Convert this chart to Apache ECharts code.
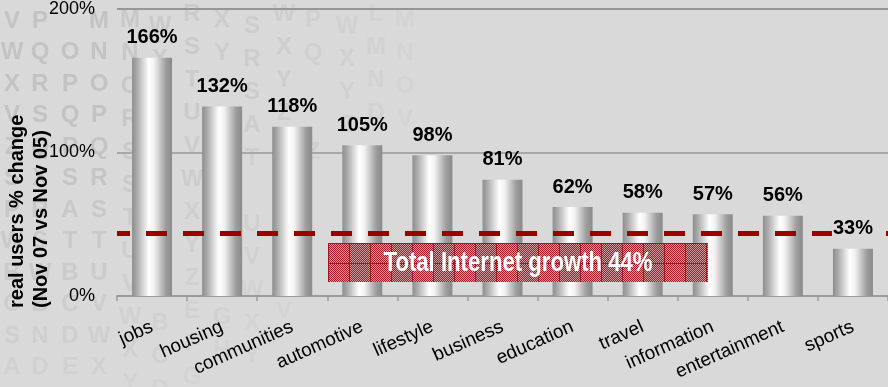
<!DOCTYPE html>
<html>
<head>
<meta charset="utf-8">
<script src="https://cdn.jsdelivr.net/npm/echarts@6/dist/echarts.min.js"></script>
<style>
  html, body { margin: 0; padding: 0; background: #d9d9d9; }
  #chart { width: 888px; height: 387px; }
</style>
</head>
<body>
<div id="chart"></div>
<script>
// Growth in real users by site category, Nov 07 vs Nov 05
const categories = ['jobs', 'housing', 'communities', 'automotive', 'lifestyle', 'business',
  'education', 'travel', 'information', 'entertainment', 'sports'];
const growth = [166, 132, 118, 105, 98, 81, 62, 58, 57, 56, 33];
const totalGrowth = 44;
const yTicks = [0, 100, 200];
const yTitle = ['real users % change', '(Nov 07 vs Nov 05)'];
const bannerText = 'Total Internet growth ' + totalGrowth + '%';

// faint letter wall behind the plot (one string per column, top to bottom)
const letterColumns = [
  'VWXVZSPWBCSAD', 'PQRSQXRSWBNDE', ' OPQPSATBCDEF', 'MNOPQRSTUVWXY',
  'MNORSSTUVWXYZ', 'WX  WXYZABCD', 'RSTUVWXYZEFG', 'XY ZBCDEFGH',
  'SRSAT UVWXY', 'WXYZ RSTUV', 'PQ  Z', 'WXYZ', 'LMND', 'MNOV'
];

const FONT = 'Liberation Sans, Arial, sans-serif';
const BG = '#d9d9d9';

function hatchCanvas() {
  const c = document.createElement('canvas');
  c.width = 21; c.height = 20;
  const g = c.getContext('2d');
  for (let y = 0; y < c.height; y++) {
    for (let x = 0; x < c.width; x++) {
      g.fillStyle = (x + y) % 2 ? '#a31a26' : '#d49ba0';
      g.fillRect(x, y, 1, 1);
    }
  }
  g.fillStyle = '#a11722';
  g.fillRect(0, 0, 1, c.height);
  g.fillRect(0, 0, c.width, 1);
  return c;
}

function letterWall() {
  const els = [];
  const xs = [12, 40, 70, 99, 130, 160, 192, 222, 252, 284, 313, 347, 376, 405];
  letterColumns.forEach((col, ci) => {
    const y0 = ci < 4 ? 21 : 14 + (ci % 3) * 6;
    const dy = ci < 4 ? 31.5 : 33;
    const colAlpha = ci < 4 ? 0.55 : Math.max(0.12, 0.4 - (ci - 4) * 0.03);
    for (let r = 0; r < col.length; r++) {
      const ch = col[r];
      if (ch === ' ') continue;
      const rowFade = r < 4 ? 1 : Math.max(0.35, 1 - (r - 3) * 0.08);
      els.push({
        type: 'text', silent: true, z: -10,
        x: xs[ci], y: y0 + r * dy,
        style: {
          text: ch, font: 'bold 24px ' + FONT, fill: '#b0b0b0',
          opacity: colAlpha * rowFade, align: 'center', verticalAlign: 'middle'
        }
      });
    }
  });
  return els;
}

// labels of columns that sit under the reference line get a backing so they stay legible
const labelData = growth.map(v => v < totalGrowth
  ? { value: v, label: { backgroundColor: BG, padding: [0, 1] } }
  : v);

const chart = echarts.init(document.getElementById('chart'));

const barGradient = new echarts.graphic.LinearGradient(0, 0, 1, 0, [
  { offset: 0, color: '#8e8e8e' },
  { offset: 0.12, color: '#a9a9a9' },
  { offset: 0.42, color: '#ffffff' },
  { offset: 0.55, color: '#f2f2f2' },
  { offset: 0.85, color: '#9c9c9c' },
  { offset: 1, color: '#8a8a8a' }
]);

chart.setOption({
  backgroundColor: BG,
  animation: false,
  grid: { left: 117, top: 9, width: 775, height: 287, containLabel: false },
  xAxis: {
    type: 'category',
    data: categories,
    axisLine: { lineStyle: { color: '#9a9a9a', width: 2 } },
    axisTick: { show: true, length: 5, lineStyle: { color: '#9a9a9a', width: 1.5 } },
    axisLabel: {
      interval: 0, rotate: 24, margin: 30,
      fontFamily: FONT, fontSize: 19, color: '#000'
    }
  },
  yAxis: {
    type: 'value',
    min: yTicks[0], max: yTicks[yTicks.length - 1], interval: 100,
    axisLine: { show: false },
    axisTick: { show: false },
    axisLabel: {
      formatter: v => v + '%', margin: 22,
      fontFamily: FONT, fontSize: 18, color: '#000'
    },
    splitLine: { lineStyle: { color: ['#9a9a9a', '#a8a8a8', '#969696'], width: 2 } }
  },
  series: [
    {
      // silver columns
      type: 'bar',
      z: 2,
      data: growth,
      barWidth: 40,
      itemStyle: { color: barGradient }
    },
    {
      // dashed reference line for total Internet growth
      type: 'line',
      z: 3,
      data: [],
      markLine: {
        z: 3,
        silent: true,
        symbol: ['none', 'none'],
        label: { show: false },
        lineStyle: { color: '#990000', width: 5, type: [21, 16], dashOffset: 8 },
        data: [{ yAxis: totalGrowth }]
      }
    },
    {
      // value labels kept above the dashed line
      type: 'bar',
      z: 4,
      data: labelData,
      barWidth: 40,
      barGap: '-100%',
      itemStyle: { color: 'rgba(0,0,0,0)' },
      label: {
        show: true, position: 'top', distance: 10,
        formatter: p => p.value + '%',
        fontFamily: FONT, fontSize: 20, fontWeight: 'bold', color: '#000'
      }
    }
  ],
  graphic: letterWall().concat([
    {
      type: 'text', silent: true,
      x: 29, y: 308, rotation: Math.PI / 2,
      style: {
        text: yTitle.join('\n'), font: 'bold 20px ' + FONT, fill: '#000',
        lineHeight: 24, align: 'left', verticalAlign: 'middle'
      }
    },
    {
      type: 'rect', silent: true, z: 5,
      shape: { x: 328, y: 243, width: 380, height: 39 },
      style: { fill: { image: hatchCanvas(), repeat: 'repeat', x: 328, y: 243 } }
    },
    {
      type: 'text', silent: true, z: 6,
      x: 518, y: 264, scaleX: 0.82,
      style: {
        text: bannerText, font: 'bold 27px ' + FONT, fill: '#ffffff',
        align: 'center', verticalAlign: 'middle'
      }
    }
  ])
});
</script>
</body>
</html>
